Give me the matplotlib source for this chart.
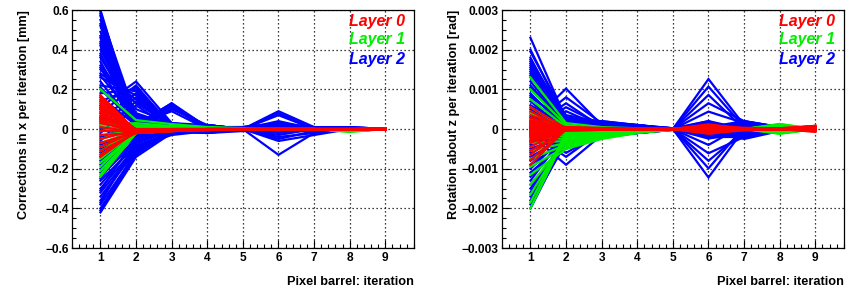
import matplotlib
matplotlib.use("Agg")
import matplotlib.pyplot as plt
from matplotlib.ticker import MultipleLocator, FuncFormatter

# ---------------------
# DATA (one row per module, values per iteration 1..9)
# ---------------------
ITERATIONS = [1, 2, 3, 4, 5, 6, 7, 8, 9]
LAYER_NAMES = ["Layer 0", "Layer 1", "Layer 2"]
LAYER_COLORS = ["#ff0000", "#00ee00", "#0000ff"]

# corrections in x [mm]
X_LAYER2 = [
    [0.60, 0.01, 0.00, 0.01, 0.00, 0.01, 0.00, 0.00, 0.00],
    [0.59, 0.02, 0.01, 0.00, 0.00, 0.00, 0.01, 0.00, 0.00],
    [0.58, 0.06, 0.01, 0.00, 0.00, 0.00, 0.00, 0.00, 0.00],
    [0.57, 0.00, 0.01, 0.01, 0.00, -0.01, 0.00, 0.00, 0.00],
    [0.55, 0.03, 0.00, 0.00, 0.01, 0.02, 0.00, 0.00, 0.00],
    [0.53, 0.00, 0.00, 0.01, 0.00, 0.01, 0.00, 0.00, 0.00],
    [0.52, 0.01, 0.02, 0.01, 0.00, 0.00, -0.01, 0.00, 0.00],
    [0.49, 0.04, 0.01, 0.02, 0.00, 0.01, 0.01, 0.01, 0.00],
    [0.47, 0.07, 0.02, 0.00, 0.00, 0.00, 0.00, 0.00, 0.00],
    [0.46, 0.02, 0.00, 0.00, -0.01, 0.00, 0.00, 0.00, 0.00],
    [0.44, 0.05, 0.02, 0.01, 0.00, 0.03, 0.01, 0.00, 0.00],
    [0.43, 0.01, 0.00, 0.00, 0.01, 0.00, 0.01, 0.00, 0.00],
    [0.42, 0.00, 0.01, -0.01, 0.00, 0.00, 0.00, 0.00, 0.00],
    [0.40, 0.06, 0.03, 0.01, 0.01, 0.02, 0.00, 0.01, 0.00],
    [0.38, 0.03, 0.01, 0.02, 0.00, 0.00, 0.01, 0.00, 0.00],
    [0.37, 0.04, 0.01, 0.01, 0.00, 0.00, 0.00, 0.00, 0.00],
    [0.36, 0.08, 0.02, 0.00, 0.00, 0.01, 0.00, 0.00, 0.00],
    [0.34, 0.02, 0.00, 0.01, 0.01, -0.01, 0.00, 0.00, 0.00],
    [0.32, 0.10, 0.03, 0.02, 0.00, 0.00, 0.01, 0.00, 0.00],
    [0.31, 0.00, 0.00, 0.00, 0.00, 0.01, 0.00, 0.00, 0.00],
    [0.30, 0.13, 0.02, 0.00, 0.01, 0.02, 0.00, 0.00, 0.00],
    [0.28, 0.15, 0.01, 0.01, 0.00, 0.00, 0.00, 0.00, 0.00],
    [0.27, 0.05, 0.02, 0.00, 0.00, 0.00, 0.00, 0.00, 0.00],
    [0.26, 0.17, 0.03, 0.00, 0.00, 0.01, 0.01, 0.00, 0.00],
    [0.24, 0.01, 0.00, 0.02, 0.00, 0.00, 0.00, 0.00, 0.00],
    [0.22, 0.19, 0.02, 0.01, 0.01, 0.00, 0.00, 0.00, 0.00],
    [0.21, 0.02, 0.01, 0.01, 0.00, 0.00, 0.00, 0.00, 0.00],
    [0.20, 0.03, 0.00, 0.00, 0.00, 0.09, 0.01, 0.00, 0.00],
    [0.18, 0.20, 0.01, 0.00, 0.00, 0.00, 0.00, 0.01, 0.00],
    [0.16, 0.02, 0.13, 0.00, 0.00, 0.01, 0.00, 0.00, 0.00],
    [0.14, 0.21, 0.02, 0.01, 0.00, 0.00, 0.01, 0.00, 0.00],
    [0.12, 0.00, 0.12, 0.01, 0.00, 0.00, 0.00, 0.00, 0.00],
    [0.11, 0.24, 0.03, 0.00, 0.01, 0.02, 0.00, 0.00, 0.00],
    [0.10, 0.01, 0.11, 0.00, 0.00, 0.08, 0.00, 0.00, 0.00],
    [0.08, 0.22, 0.01, 0.02, 0.00, 0.00, 0.00, 0.00, 0.00],
    [0.06, 0.02, 0.13, 0.01, 0.00, 0.00, 0.01, 0.00, 0.00],
    [0.05, 0.18, 0.00, 0.00, 0.00, 0.07, 0.00, 0.00, 0.00],
    [0.04, 0.00, 0.10, 0.02, 0.00, 0.00, 0.00, 0.00, 0.00],
    [0.02, 0.16, 0.02, 0.00, 0.01, 0.03, 0.00, 0.00, 0.00],
    [0.00, 0.01, 0.12, 0.01, 0.00, 0.00, 0.00, 0.00, 0.00],
    [-0.02, 0.14, 0.01, 0.00, 0.00, -0.02, 0.00, 0.00, 0.00],
    [-0.04, 0.02, 0.09, 0.00, 0.00, 0.00, -0.01, 0.00, 0.00],
    [-0.06, 0.12, 0.00, 0.01, 0.00, 0.04, 0.00, 0.00, 0.00],
    [-0.08, 0.00, 0.00, -0.01, 0.00, -0.04, -0.02, 0.00, 0.00],
    [-0.10, -0.02, 0.00, 0.00, 0.00, 0.00, 0.00, 0.00, 0.00],
    [-0.12, -0.01, -0.01, -0.02, 0.00, -0.05, -0.01, 0.00, 0.00],
    [-0.14, -0.03, 0.00, 0.00, 0.00, 0.00, 0.00, 0.00, 0.00],
    [-0.16, -0.02, -0.01, -0.01, 0.00, -0.06, -0.03, 0.00, 0.00],
    [-0.18, -0.04, 0.00, 0.00, 0.00, 0.00, 0.00, 0.00, 0.00],
    [-0.20, -0.03, -0.02, -0.01, 0.00, -0.13, -0.02, 0.00, 0.00],
    [-0.22, -0.05, 0.00, 0.00, 0.00, 0.02, 0.00, 0.00, 0.00],
    [-0.24, -0.06, -0.01, -0.02, -0.01, 0.00, 0.00, 0.00, 0.00],
    [-0.25, -0.01, 0.00, 0.00, 0.00, 0.00, 0.00, 0.00, 0.00],
    [-0.26, -0.08, -0.02, 0.00, 0.00, -0.03, 0.00, 0.00, 0.00],
    [-0.28, -0.07, -0.01, -0.01, 0.00, 0.00, 0.00, 0.00, 0.00],
    [-0.30, -0.09, -0.02, 0.00, 0.00, 0.01, 0.00, 0.00, 0.00],
    [-0.31, -0.04, -0.01, 0.00, 0.00, 0.00, 0.00, 0.00, 0.00],
    [-0.32, -0.10, -0.01, -0.02, 0.00, 0.00, 0.00, 0.00, 0.00],
    [-0.34, -0.11, -0.02, 0.00, 0.00, -0.01, 0.00, 0.00, 0.00],
    [-0.36, -0.09, -0.03, -0.01, 0.00, 0.00, 0.00, 0.00, 0.00],
    [-0.37, -0.06, -0.01, 0.00, 0.00, 0.00, 0.00, 0.00, 0.00],
    [-0.38, -0.12, -0.02, 0.00, 0.00, 0.00, 0.00, 0.00, 0.00],
    [-0.40, -0.13, -0.01, -0.01, 0.00, 0.02, 0.00, 0.00, 0.00],
    [-0.41, -0.11, -0.02, -0.01, 0.00, 0.00, 0.00, 0.00, 0.00],
    [-0.42, -0.14, -0.02, 0.00, 0.00, 0.00, 0.00, 0.00, 0.00],
]

X_LAYER1 = [
    [0.20, 0.045, 0.025, 0.010, 0.005, 0.000, 0.000, -0.010, 0.000],
    [0.04, 0.020, 0.010, 0.010, 0.000, 0.000, 0.000, -0.010, 0.000],
    [0.03, 0.010, 0.010, 0.000, 0.000, 0.000, 0.000, -0.005, 0.000],
    [0.02, 0.030, 0.015, 0.005, 0.000, 0.000, 0.000, -0.010, 0.000],
    [0.01, 0.000, 0.000, 0.000, 0.000, 0.000, 0.000, -0.010, 0.000],
    [-0.01, 0.010, 0.005, 0.000, 0.000, 0.000, 0.000, -0.015, 0.000],
    [-0.03, -0.010, 0.000, 0.000, 0.000, 0.000, 0.000, -0.010, 0.000],
    [-0.05, 0.000, 0.000, 0.000, 0.000, 0.000, 0.000, -0.005, 0.000],
    [-0.07, -0.010, 0.000, 0.000, 0.000, 0.000, 0.000, -0.010, 0.000],
    [-0.09, -0.020, -0.010, 0.000, 0.000, 0.000, 0.000, -0.010, 0.000],
    [-0.11, -0.010, 0.000, 0.000, 0.000, 0.000, 0.000, -0.005, 0.000],
    [-0.13, -0.020, 0.000, 0.000, 0.000, 0.000, 0.000, -0.010, 0.000],
    [-0.15, -0.010, 0.000, 0.000, 0.000, 0.000, 0.000, -0.010, 0.000],
    [-0.17, -0.020, -0.010, 0.000, 0.000, 0.000, 0.000, -0.005, 0.000],
    [-0.19, -0.010, 0.000, 0.000, 0.000, 0.000, 0.000, -0.010, 0.000],
    [-0.21, -0.020, 0.000, 0.000, 0.000, 0.000, 0.000, -0.010, 0.000],
    [-0.23, -0.010, 0.000, 0.000, 0.000, 0.000, 0.000, -0.005, 0.000],
    [-0.24, -0.020, -0.010, 0.000, 0.000, 0.000, 0.000, -0.010, 0.000],
]

X_LAYER0 = [
    [0.17, -0.010, -0.005, 0.000, 0.000, 0.000, 0.000, 0.000, 0.000],
    [0.16, -0.015, -0.008, -0.004, 0.000, -0.005, 0.000, 0.000, 0.004],
    [0.15, -0.005, 0.000, 0.000, 0.000, 0.000, -0.004, 0.000, 0.000],
    [0.14, -0.020, -0.010, -0.005, -0.003, 0.000, 0.000, 0.000, -0.004],
    [0.13, -0.010, -0.004, 0.000, 0.000, 0.004, 0.000, 0.000, 0.000],
    [0.12, 0.000, 0.000, 0.000, 0.000, 0.000, 0.000, 0.000, 0.003],
    [0.11, -0.015, -0.008, -0.005, 0.000, -0.004, -0.005, 0.000, 0.000],
    [0.10, -0.005, 0.000, 0.000, 0.000, 0.000, 0.000, 0.000, -0.003],
    [0.09, -0.020, -0.010, -0.005, 0.000, 0.000, 0.000, 0.000, 0.000],
    [0.08, -0.010, -0.005, 0.000, 0.000, -0.006, 0.000, 0.000, 0.004],
    [0.07, 0.000, 0.000, 0.000, 0.000, 0.000, 0.000, 0.000, 0.000],
    [0.06, -0.015, -0.010, -0.005, 0.000, 0.000, -0.004, 0.000, -0.004],
    [0.05, -0.005, 0.000, 0.000, 0.000, 0.005, 0.000, 0.000, 0.000],
    [0.04, -0.020, -0.008, -0.004, 0.000, 0.000, 0.000, 0.000, 0.002],
    [0.03, -0.010, -0.005, 0.000, 0.000, 0.000, 0.000, 0.000, 0.000],
    [0.01, -0.015, -0.005, 0.000, 0.000, 0.000, 0.000, 0.000, 0.000],
    [-0.01, -0.010, -0.005, 0.000, 0.000, -0.004, 0.000, 0.000, -0.003],
    [-0.03, -0.020, -0.010, -0.005, 0.000, 0.000, 0.000, 0.000, 0.000],
    [-0.05, -0.005, 0.000, 0.000, 0.000, 0.000, 0.000, 0.000, 0.004],
    [-0.07, -0.015, -0.005, 0.000, 0.000, 0.000, 0.000, 0.000, 0.000],
    [-0.09, -0.010, -0.005, 0.000, 0.000, 0.003, 0.000, 0.000, 0.000],
    [-0.11, -0.020, -0.010, -0.004, 0.000, 0.000, 0.000, 0.000, -0.003],
    [-0.13, -0.015, -0.005, 0.000, 0.000, 0.000, 0.000, 0.000, 0.000],
    [-0.14, -0.010, -0.005, 0.000, 0.000, 0.000, 0.000, 0.000, 0.000],
]

# rotation about z [mrad], plotted in rad
ROT_SCALE = 1e-3

ROT_LAYER2 = [
    [2.30, 0.25, 0.10, 0.05, 0.00, 0.10, 0.05, 0.02, 0.00],
    [2.00, 0.20, 0.15, 0.08, 0.02, -0.05, 0.10, 0.05, 0.00],
    [1.95, 0.30, 0.12, 0.05, 0.00, 0.15, -0.05, 0.00, 0.00],
    [1.80, 0.10, 0.20, 0.10, 0.02, 0.00, 0.20, 0.05, 0.00],
    [1.75, 0.25, 0.15, 0.05, 0.00, 1.26, 0.10, 0.02, 0.00],
    [1.70, 0.15, 0.10, 0.08, 0.02, -0.10, 0.00, 0.00, 0.00],
    [1.65, 0.35, 0.18, 0.10, 0.00, 0.05, 0.15, 0.05, 0.00],
    [1.60, 0.05, 0.10, 0.05, 0.00, 1.07, 0.05, 0.00, 0.00],
    [1.55, 0.20, 0.12, 0.06, 0.02, 0.20, -0.10, 0.00, 0.00],
    [1.50, 0.10, 0.08, 0.04, 0.00, -1.22, 0.00, 0.00, 0.00],
    [1.45, 0.30, 0.15, 0.10, 0.00, 0.10, 0.10, 0.05, 0.00],
    [1.40, 0.00, 0.05, 0.05, 0.00, 0.86, 0.00, 0.00, 0.00],
    [1.35, 0.15, 0.10, 0.08, 0.00, -0.15, -0.15, -0.05, 0.00],
    [1.30, 0.25, 0.20, 0.10, 0.02, -0.99, 0.05, 0.00, 0.00],
    [1.20, 0.10, 0.10, 0.05, 0.00, 0.65, 0.20, 0.05, 0.00],
    [1.10, 0.05, 0.05, 0.05, 0.00, 0.00, 0.00, 0.00, 0.00],
    [1.05, 0.20, 0.12, 0.10, 0.00, -0.80, -0.05, 0.00, 0.00],
    [1.00, 0.15, 0.10, 0.05, 0.00, 0.44, 0.15, 0.00, 0.00],
    [0.90, 0.00, 0.05, 0.05, 0.00, 0.10, 0.00, 0.00, 0.00],
    [0.85, 0.10, 0.10, 0.08, 0.00, -0.61, -0.20, -0.05, 0.00],
    [0.80, 0.20, 0.15, 0.10, 0.00, 0.15, 0.00, 0.00, 0.00],
    [0.70, -0.05, 0.00, 0.00, 0.00, -0.40, 0.10, 0.00, 0.00],
    [0.60, 0.10, 0.05, 0.05, 0.00, 0.20, 0.00, 0.00, 0.00],
    [0.50, 0.00, 0.00, 0.00, 0.00, -0.24, -0.10, 0.00, 0.00],
    [0.40, 0.05, 0.05, 0.05, 0.00, 0.10, 0.05, 0.00, 0.00],
    [0.30, 0.05, 0.10, 0.05, 0.00, 0.00, 0.10, 0.00, 0.00],
    [0.20, -0.05, 0.00, 0.00, 0.00, -0.15, 0.00, 0.00, 0.00],
    [0.15, 1.02, 0.10, 0.05, 0.00, 0.00, 0.00, 0.00, 0.00],
    [0.10, 0.80, 0.15, 0.05, 0.00, 0.10, 0.00, 0.00, 0.00],
    [0.05, 0.65, 0.05, 0.00, 0.00, -0.10, 0.00, 0.00, 0.00],
    [0.00, 0.55, 0.10, 0.05, 0.00, 0.00, 0.00, 0.00, 0.00],
    [-0.05, 0.45, 0.05, 0.00, 0.00, 0.05, 0.00, 0.00, 0.00],
    [0.05, -0.40, -0.10, -0.05, 0.00, 0.00, 0.00, 0.00, 0.00],
    [0.00, -0.50, -0.05, 0.00, 0.00, -0.05, 0.00, 0.00, 0.00],
    [-0.05, -0.60, -0.10, -0.05, 0.00, 0.00, 0.00, 0.00, 0.00],
    [-0.10, -0.70, -0.05, 0.00, 0.00, 0.05, 0.00, 0.00, 0.00],
    [-0.15, -0.90, -0.15, -0.05, 0.00, 0.00, 0.00, 0.00, 0.00],
    [-0.20, 0.10, 0.05, 0.05, 0.00, 0.15, -0.10, 0.00, 0.00],
    [-0.30, -0.10, -0.05, -0.05, 0.00, -0.10, -0.05, 0.00, 0.00],
    [-0.40, 0.00, 0.05, 0.00, 0.00, 0.05, 0.20, 0.05, 0.00],
    [-0.50, -0.15, -0.10, -0.05, 0.00, -0.20, -0.20, -0.05, 0.00],
    [-0.60, -0.05, 0.00, 0.00, 0.00, 0.00, 0.00, 0.00, 0.00],
    [-0.70, -0.20, -0.10, -0.08, 0.00, -0.15, -0.10, 0.00, 0.00],
    [-0.80, -0.10, -0.05, 0.00, 0.00, 0.10, 0.05, 0.00, 0.00],
    [-0.90, -0.25, -0.15, -0.10, -0.02, -0.05, -0.25, -0.05, 0.00],
    [-1.00, -0.15, -0.10, -0.05, 0.00, 0.00, 0.00, 0.00, 0.00],
    [-1.10, -0.30, -0.20, -0.10, 0.00, -0.10, -0.10, 0.00, 0.00],
    [-1.20, -0.20, -0.10, -0.05, 0.00, 0.05, 0.10, 0.05, 0.00],
    [-1.30, -0.10, -0.05, -0.05, 0.00, -0.05, 0.00, 0.00, 0.00],
    [-1.40, -0.35, -0.20, -0.10, -0.02, 0.00, -0.15, -0.05, 0.00],
    [-1.50, -0.25, -0.15, -0.08, 0.00, 0.10, 0.00, 0.00, 0.00],
    [-1.60, -0.15, -0.10, -0.05, 0.00, -0.10, 0.05, 0.00, 0.00],
    [-1.70, -0.30, -0.15, -0.10, 0.00, 0.00, 0.00, 0.00, 0.00],
    [-1.80, -0.20, -0.10, -0.05, 0.00, 0.05, -0.05, 0.00, 0.00],
    [-1.90, -0.35, -0.20, -0.10, -0.02, -0.05, 0.00, 0.00, 0.00],
    [-2.00, -0.25, -0.15, -0.08, 0.00, 0.00, 0.10, 0.05, 0.00],
]

ROT_LAYER1 = [
    [1.30, 0.15, 0.05, 0.02, 0.00, 0.03, 0.00, 0.10, 0.00],
    [1.00, 0.10, 0.00, 0.00, 0.00, 0.00, 0.02, -0.08, 0.00],
    [0.75, 0.05, 0.02, 0.00, 0.00, -0.02, 0.00, 0.13, 0.00],
    [0.55, 0.00, -0.05, -0.02, 0.00, 0.00, 0.00, -0.12, 0.00],
    [0.40, -0.05, -0.02, 0.00, 0.00, 0.02, -0.02, 0.06, 0.00],
    [0.25, -0.10, -0.05, -0.02, 0.00, 0.00, 0.00, -0.05, 0.00],
    [0.10, -0.15, -0.08, -0.03, 0.00, 0.00, 0.00, 0.08, 0.00],
    [-0.05, -0.20, -0.10, -0.05, 0.00, -0.02, 0.02, -0.10, 0.00],
    [-0.20, -0.25, -0.12, -0.05, 0.00, 0.00, 0.00, 0.04, 0.00],
    [-0.35, -0.30, -0.15, -0.06, 0.00, 0.00, 0.00, -0.06, 0.00],
    [-0.55, -0.35, -0.18, -0.08, -0.02, 0.00, 0.00, 0.10, 0.00],
    [-0.75, -0.40, -0.20, -0.08, 0.00, 0.02, 0.00, -0.04, 0.00],
    [-0.95, -0.45, -0.22, -0.10, -0.02, 0.00, -0.02, 0.07, 0.00],
    [-1.15, -0.50, -0.25, -0.10, 0.00, 0.00, 0.00, -0.09, 0.00],
    [-1.40, -0.30, -0.15, -0.05, 0.00, 0.00, 0.00, 0.05, 0.00],
    [-1.65, -0.20, -0.10, -0.05, 0.00, 0.00, 0.00, -0.07, 0.00],
    [-1.85, -0.10, -0.05, 0.00, 0.00, 0.00, 0.00, 0.12, 0.00],
    [-2.00, -0.15, -0.08, -0.03, 0.00, 0.00, 0.00, -0.11, 0.00],
]

ROT_LAYER0 = [
    [0.55, 0.02, 0.00, 0.00, 0.00, 0.08, 0.02, 0.00, 0.06],
    [0.45, -0.03, 0.02, 0.00, 0.00, -0.06, 0.00, 0.00, 0.00],
    [0.35, 0.04, 0.00, 0.02, 0.00, 0.10, 0.03, 0.02, 0.08],
    [0.28, 0.00, -0.02, 0.00, 0.00, 0.00, 0.00, 0.00, -0.04],
    [0.22, 0.03, 0.02, 0.00, 0.00, -0.10, -0.03, 0.00, 0.05],
    [0.18, -0.02, 0.00, 0.00, 0.00, 0.05, 0.00, 0.00, 0.00],
    [0.14, 0.05, 0.03, 0.02, 0.00, 0.00, 0.02, 0.02, 0.07],
    [0.10, 0.00, 0.00, 0.00, 0.00, 0.12, 0.00, 0.00, -0.05],
    [0.06, -0.04, -0.02, 0.00, 0.00, -0.04, -0.02, 0.00, 0.03],
    [0.03, 0.02, 0.00, 0.00, 0.00, 0.06, 0.00, 0.00, 0.00],
    [0.00, 0.00, 0.02, 0.00, 0.00, -0.08, 0.03, 0.00, 0.08],
    [-0.03, 0.03, 0.00, 0.00, 0.00, 0.03, 0.00, 0.00, -0.06],
    [-0.06, -0.02, 0.00, 0.00, 0.00, -0.12, -0.02, 0.00, 0.04],
    [-0.10, 0.04, 0.02, 0.00, 0.00, 0.08, 0.00, 0.00, 0.00],
    [-0.14, 0.00, 0.00, 0.00, 0.00, 0.00, 0.02, 0.00, 0.06],
    [-0.18, -0.03, -0.02, 0.00, 0.00, -0.05, 0.00, 0.00, -0.03],
    [-0.22, 0.02, 0.00, 0.00, 0.00, 0.10, 0.00, 0.00, 0.02],
    [-0.26, -0.01, 0.00, 0.00, 0.00, -0.03, -0.03, 0.00, 0.07],
    [-0.30, 0.03, 0.02, 0.00, 0.00, 0.04, 0.00, 0.00, 0.00],
    [-0.35, -0.02, 0.00, 0.00, 0.00, -0.09, 0.00, 0.00, -0.07],
    [-0.45, 0.01, 0.00, 0.00, 0.00, 0.02, 0.02, 0.00, 0.05],
    [-0.55, -0.03, -0.02, 0.00, 0.00, -0.02, 0.00, 0.00, 0.00],
    [-0.65, 0.02, 0.00, 0.00, 0.00, 0.07, 0.00, 0.00, 0.08],
    [-0.78, -0.01, 0.00, 0.00, 0.00, -0.07, 0.00, 0.00, -0.04],
    [-0.90, 0.00, 0.00, 0.00, 0.00, 0.00, 0.00, 0.00, 0.03],
]

FONT = "Liberation Sans"
LINE_W = 1.6


def fmt_tick(v, pos):
    if abs(v) < 1e-12:
        return "0"
    return f"{v:g}".replace("-", "\u2212")


def draw_panel(ax, layers, scale, ylim, major, minor, ylabel):
    # draw outermost layer first so layer 0 ends up on top
    for rows, color in zip(reversed(layers), reversed(LAYER_COLORS)):
        for row in rows:
            ax.plot(ITERATIONS, [v * scale for v in row], color=color, lw=LINE_W,
                    solid_joinstyle="miter")

    ax.set_xlim(0.2, 9.8)
    ax.set_ylim(*ylim)
    ax.xaxis.set_major_locator(MultipleLocator(1))
    ax.xaxis.set_minor_locator(MultipleLocator(0.2))
    ax.yaxis.set_major_locator(MultipleLocator(major))
    ax.yaxis.set_minor_locator(MultipleLocator(minor))
    ax.yaxis.set_major_formatter(FuncFormatter(fmt_tick))
    ax.xaxis.set_major_formatter(FuncFormatter(lambda v, p: f"{v:.0f}"))
    ax.set_xticks([1, 2, 3, 4, 5, 6, 7, 8, 9])

    ax.tick_params(which="both", direction="in", top=False, right=False, width=0.8)
    ax.tick_params(which="major", length=5.5, labelsize=8.6, pad=2.5)
    ax.tick_params(which="minor", length=2.8)
    for lab in ax.get_xticklabels() + ax.get_yticklabels():
        lab.set_fontfamily(FONT)
        lab.set_fontweight("bold")

    ax.grid(True, which="major", color="black", lw=0.9, linestyle=(0, (1, 2.2)))
    for sp in ax.spines.values():
        sp.set_linewidth(0.9)

    ax.text(-0.14, 1.0, ylabel, transform=ax.transAxes, rotation=90, ha="center",
            va="top", fontsize=9.2, fontweight="bold", family=FONT)
    ax.text(1.0, -0.143, "Pixel barrel: iteration", transform=ax.transAxes,
            ha="right", va="center", fontsize=9.2, fontweight="bold", family=FONT)

    for name, color, yy in zip(LAYER_NAMES, LAYER_COLORS, [0.952, 0.876, 0.792]):
        ax.text(0.975, yy, name, transform=ax.transAxes, ha="right", va="center",
                color=color, fontsize=11.5, fontweight="bold", style="italic", family=FONT)


def main():
    fig = plt.figure(figsize=(8.61, 2.95), dpi=100)
    ax_left = fig.add_axes([0.0836, 0.159, 0.397, 0.807])
    ax_right = fig.add_axes([0.583, 0.159, 0.397, 0.807])

    draw_panel(ax_left, [X_LAYER0, X_LAYER1, X_LAYER2], 1.0, (-0.6, 0.6), 0.2, 0.05,
               "Corrections in x per iteration [mm]")
    draw_panel(ax_right, [ROT_LAYER0, ROT_LAYER1, ROT_LAYER2], ROT_SCALE,
               (-0.003, 0.003), 0.001, 0.00025,
               "Rotation about z per iteration [rad]")

    fig.savefig("out.png", dpi=100)
    plt.close(fig)


if __name__ == "__main__":
    main()
